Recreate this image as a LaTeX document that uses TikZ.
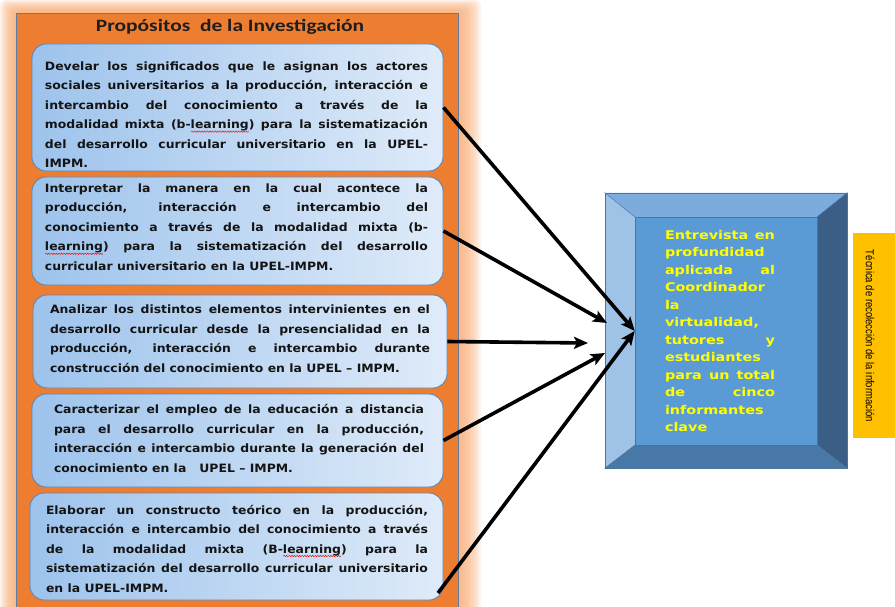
\documentclass[tikz,border=0pt]{standalone}
\usepackage{fontspec}
\usetikzlibrary{arrows.meta,decorations.pathmorphing}

\newfontfamily\boxfont[FakeStretch=1.08]{DejaVu Sans}
\newfontfamily\facefont[FakeStretch=1.2]{DejaVu Sans}
\newfontfamily\titlefont[FakeStretch=1.24]{Carlito}
\newfontfamily\sidefont{Liberation Sans}

% red wavy underline of the spell checker
\newsavebox\wavebox
\newlength\wavelen
\newcommand\spellwave[1]{\sbox\wavebox{#1}\setlength\wavelen{\wd\wavebox}%
  \rlap{\raisebox{-3pt}{\tikz[x=1pt,y=1pt,baseline=0pt,sharp corners]\draw[red,line width=0.45pt,
    decorate,decoration={snake,amplitude=0.7pt,segment length=2.6pt}] (0,0) -- (\wavelen,0);}}%
  \usebox\wavebox}

\definecolor{orng}{HTML}{ED7D31}
\definecolor{glow}{HTML}{F7A86E}
\definecolor{panelline}{HTML}{5A7EA6}
\definecolor{boxL}{HTML}{9DC3EC}
\definecolor{boxR}{HTML}{DFEBF9}
\definecolor{boxline}{HTML}{5F85B3}
\definecolor{ink}{HTML}{141414}
\definecolor{titleink}{HTML}{1E1E1E}
\definecolor{bevT}{HTML}{7BACDD}
\definecolor{bevL}{HTML}{9EC3E7}
\definecolor{bevR}{HTML}{3A5E86}
\definecolor{bevB}{HTML}{4878A5}
\definecolor{face}{HTML}{5B9BD5}
\definecolor{bevline}{HTML}{4A74A0}
\definecolor{yel}{HTML}{FFFF00}
\definecolor{gold}{HTML}{FFC000}

\begin{document}
\begin{tikzpicture}[x=1pt,y=-1pt,
  goalbox/.style={draw=boxline, line width=0.9pt, rounded corners=14pt,
    left color=boxL, right color=boxR, inner sep=0pt},
  goaltext/.style={inner sep=0pt, text=ink,
    font=\boxfont\bfseries\fontsize{11.5}{19.5}\selectfont, align=justify,
    execute at begin node={\hyphenpenalty=10000 \tolerance=9999}},
  flow/.style={line width=3.6pt, black, -{Stealth[length=14pt,width=12pt,inset=3pt]}},
  facetext/.style={text=yel, font=\facefont\bfseries\fontsize{12}{17.5}\selectfont,
    align=justify, text width=110pt, inner sep=0pt,
    execute at begin node={\hyphenpenalty=10000 \tolerance=9999}}
]
\useasboundingbox (0,0) rectangle (895,607);

% soft halo around the orange panel
\foreach \g in {1,...,14}
  \fill[glow, opacity=0.11, rounded corners=6pt]
    ({16-\g*1.15},{13-\g*0.95}) rectangle ({458+\g*1.65},640);

% orange panel
\node[draw=panelline, line width=0.9pt, fill=orng, inner sep=0pt,
      minimum width=442pt, minimum height=610pt, anchor=north west] (panel) at (16,13) {};

\node[font=\titlefont\bfseries\fontsize{17.3}{20}\selectfont, text=titleink] (title) at (230,27)
  {Propósitos~ de la Investigación};

% purposes: frames
\node[goalbox, minimum width=411pt, minimum height=127pt] (b1) at (237.5,107.5) {};
\node[goalbox, minimum width=411pt, minimum height=108pt] (b2) at (237.5,231) {};
\node[goalbox, minimum width=414pt, minimum height=93pt]  (b3) at (240,341.5) {};
\node[goalbox, minimum width=411pt, minimum height=93pt]  (b4) at (237.5,440.5) {};
\node[goalbox, minimum width=413pt, minimum height=107pt] (b5) at (236.5,546.5) {};

% purposes: texts
\node[goaltext, text width=383pt] (t1) at (236.5,114.5)
{Develar los significados que le asignan los actores\linebreak
sociales universitarios a la producción, interacción e\linebreak
intercambio del conocimiento a través de la\linebreak
modalidad mixta (b-\spellwave{learning}) para la sistematización\linebreak
del desarrollo curricular universitario en la UPEL-\linebreak
IMPM.};

\node[goaltext, text width=383pt] (t2) at (236.5,227)
{Interpretar la manera en la cual acontece la\linebreak
producción, interacción e intercambio del\linebreak
conocimiento a través de la modalidad mixta (b-\linebreak
\spellwave{learning}) para la sistematización del desarrollo\linebreak
curricular universitario en la UPEL-IMPM.};

\node[goaltext, text width=380pt] (t3) at (240,338.5)
{Analizar los distintos elementos intervinientes en el\linebreak
desarrollo curricular desde la presencialidad en la\linebreak
producción, interacción e intercambio durante\linebreak
construcción del conocimiento en la UPEL – IMPM.};

\node[goaltext, text width=370pt] (t4) at (239,438.5)
{Caracterizar el empleo de la educación a distancia\linebreak
para el desarrollo curricular en la producción,\linebreak
interacción e intercambio durante la generación del\linebreak
conocimiento en la~~ UPEL – IMPM.};

\node[goaltext, text width=382pt] (t5) at (237,548.5)
{Elaborar un constructo teórico en la producción,\linebreak
interacción e intercambio del conocimiento a través\linebreak
de la modalidad mixta (B-\spellwave{learning}) para la\linebreak
sistematización del desarrollo curricular universitario\linebreak
en la UPEL-IMPM.};

% bevelled box
\fill[bevT] (605,193) -- (847,193) -- (817,217) -- (635,217) -- cycle;
\fill[bevL] (605,193) -- (635,217) -- (635,445) -- (605,468) -- cycle;
\fill[bevR] (847,193) -- (847,468) -- (817,445) -- (817,217) -- cycle;
\fill[bevB] (605,468) -- (635,445) -- (817,445) -- (847,468) -- cycle;
\node[fill=face, draw=bevline, line width=0.5pt, inner sep=0pt,
      minimum width=182pt, minimum height=228pt] (face) at (726,331) {};
\node[draw=bevline, line width=0.8pt, inner sep=0pt,
      minimum width=242pt, minimum height=275pt] (bx) at (726,330.5) {};
\draw[bevline, line width=0.5pt] (bx.north west) -- (face.north west)
  (bx.north east) -- (face.north east) (bx.south west) -- (face.south west)
  (bx.south east) -- (face.south east);

\node[facetext] (info) at (720,331)
{Entrevista en\linebreak
profundidad\linebreak
aplicada al\linebreak
Coordinador\linebreak
la\linebreak
virtualidad,\linebreak
tutores y\linebreak
estudiantes\linebreak
para un total\linebreak
de cinco\linebreak
informantes\linebreak
clave};

% side label
\node[fill=gold, inner sep=0pt, minimum width=42pt, minimum height=205pt] (side) at (874,335.5) {};
\node[rotate=-90, inner sep=0pt, text=black] (sidetxt) at (870,336)
  {\resizebox{172pt}{8.5pt}{\sidefont Técnica de recolección de la información}};

% arrows
\coordinate (e2) at (607,323);
\coordinate (e3) at (588,343);
\coordinate (e4) at (605,353);
\coordinate (s5) at (438,593);
\draw[flow] (b1.east) -- (face.west);
\draw[flow] (b2.east) -- (e2);
\draw[flow] (b3.east) -- (e3);
\draw[flow] (b4.east) -- (e4);
\draw[flow] (s5) -- (face.west);
\end{tikzpicture}
\end{document}
